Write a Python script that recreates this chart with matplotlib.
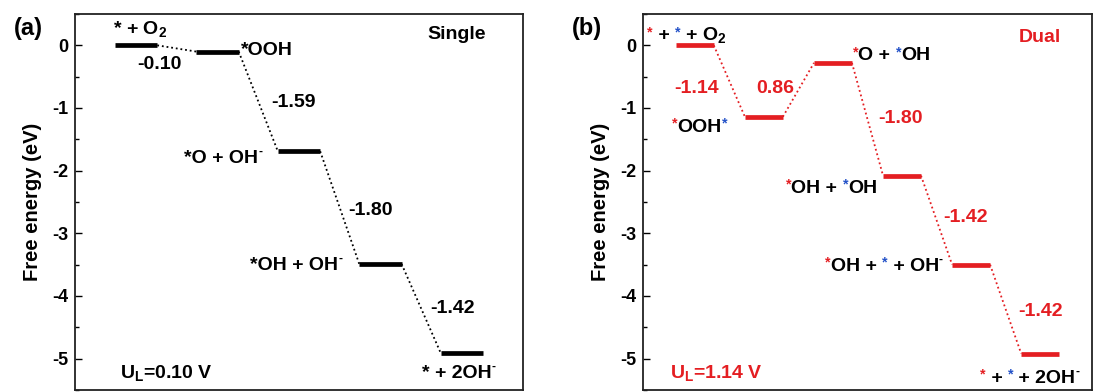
import numpy as np
import matplotlib
matplotlib.use('Agg')
import matplotlib.pyplot as plt
from matplotlib.ticker import MultipleLocator
from matplotlib.font_manager import FontProperties

plt.rcParams['font.family'] = ['Liberation Sans', 'DejaVu Sans']
plt.rcParams['font.weight'] = 'bold'
plt.rcParams['mathtext.fontset'] = 'custom'
plt.rcParams['mathtext.bf'] = 'Liberation Sans:bold'
plt.rcParams['mathtext.rm'] = 'Liberation Sans:bold'
plt.rcParams['mathtext.default'] = 'bf'

RED = '#e41e22'
BLUE = '#2452c8'
K = 'black'

# free energy levels (eV) and step energies
single_levels = [0.0, -0.10, -1.69, -3.49, -4.91]
single_steps = ['-0.10', '-1.59', '-1.80', '-1.42']
dual_levels = [0.0, -1.14, -0.28, -2.08, -3.50, -4.92]
dual_steps = ['-1.14', '0.86', '-1.80', '-1.42', '-1.42']

DPI = 100
fig = plt.figure(figsize=(10.94, 3.92), dpi=DPI)
ax1 = fig.add_axes([75 / 1094, 2.0 / 392, 448 / 1094, 376 / 392])
ax2 = fig.add_axes([643 / 1094, 2.0 / 392, 449 / 1094, 376 / 392])
renderer = fig.canvas.get_renderer()


def text_width(s, size):
    prop = FontProperties(family=['Liberation Sans', 'DejaVu Sans'], weight='bold', size=size)
    ism = '$' in s
    w1, _, _ = renderer.get_text_width_height_descent(s + 'H', prop, ismath=ism)
    w2, _, _ = renderer.get_text_width_height_descent('H', prop, ismath=False)
    return (w1 - w2) * 72.0 / DPI


def rich(ax, x, y, segs, ha='left', size=14):
    # segs: (text, color, kind) with kind None, 'star' (small raised asterisk) or 'sup'
    items = []
    base = -0.36 * size
    for s, c, kind in segs:
        if kind == 'star':
            fs, dy = size * 0.72, base + size * 0.28 * 0.75
        elif kind == 'sup':
            fs, dy = size * 0.6, base + size * 0.42
        else:
            fs, dy = size, base
        items.append((s, c, fs, dy, text_width(s, fs)))
    total = sum(it[4] for it in items)
    dx = {'left': 0.0, 'center': -total / 2, 'right': -total}[ha]
    for s, c, fs, dy, w in items:
        ax.annotate(s, xy=(x, y), xytext=(dx, dy), textcoords='offset points',
                    ha='left', va='baseline', color=c, fontsize=fs, fontweight='bold',
                    annotation_clip=False)
        dx += w


def profile(ax, levels, color, hw):
    x = np.arange(1, len(levels) + 1)
    for xi, e in zip(x, levels):
        ax.plot([xi - hw, xi + hw], [e, e], color=color, lw=3.4, solid_capstyle='butt')
    for i in range(len(levels) - 1):
        ax.plot([x[i] + hw, x[i + 1] - hw], [levels[i], levels[i + 1]],
                color=color, lw=1.3, ls=(0, (1, 1.6)))


def style(ax, xmax):
    ax.set_xlim(0.25, xmax)
    ax.set_ylim(-5.5, 0.5)
    ax.set_xticks([])
    ax.yaxis.set_minor_locator(MultipleLocator(0.5))
    ax.tick_params(axis='y', which='major', direction='in', length=5, width=1, labelsize=13, pad=5)
    ax.tick_params(axis='y', which='minor', direction='in', length=3, width=1)
    for sp in ax.spines.values():
        sp.set_linewidth(1.3)
        sp.set_color('#222222')
        sp.set_zorder(5)
    ax.set_yticks(range(-5, 1))
    ax.set_yticklabels([str(v) for v in range(-5, 1)], fontweight='bold')
    ax.set_ylabel('Free energy (eV)', fontsize=14.5, fontweight='bold', labelpad=7)


SUP = ('-', K, 'sup')

# ---- (a) single site
profile(ax1, single_levels, K, 0.26)
style(ax1, 5.75)
rich(ax1, 0.72, 0.29, [('* + O$_2$', K, None)])
rich(ax1, 1.29, -0.27, [(single_steps[0], K, None)], ha='center')
rich(ax1, 2.29, -0.05, [('*OOH', K, None)])
rich(ax1, 2.93, -0.87, [(single_steps[1], K, None)], ha='center')
rich(ax1, 2.55, -1.76, [('*O + OH', K, None), SUP], ha='right')
rich(ax1, 3.88, -2.59, [(single_steps[2], K, None)], ha='center')
rich(ax1, 3.53, -3.48, [('*OH + OH', K, None), SUP], ha='right')
rich(ax1, 4.89, -4.16, [(single_steps[3], K, None)], ha='center')
rich(ax1, 4.96, -5.19, [('* + 2OH', K, None), SUP], ha='center')
rich(ax1, 4.94, 0.21, [('Single', K, None)], ha='center')
rich(ax1, 0.80, -5.19, [('U$_L$=0.10 V', K, None)])

# ---- (b) dual site
profile(ax2, dual_levels, RED, 0.275)
style(ax2, 6.75)
rich(ax2, 0.31, 0.19, [('*', RED, 'star'), (' + ', K, None), ('*', BLUE, 'star'), (' + O$_2$', K, None)])
rich(ax2, 1.03, -0.65, [(dual_steps[0], RED, None)], ha='center')
rich(ax2, 2.16, -0.65, [(dual_steps[1], RED, None)], ha='center')
rich(ax2, 0.67, -1.27, [('*', RED, 'star'), ('OOH', K, None), ('*', BLUE, 'star')])
rich(ax2, 3.29, -0.13, [('*', RED, 'star'), ('O + ', K, None), ('*', BLUE, 'star'), ('OH', K, None)])
rich(ax2, 3.98, -1.13, [(dual_steps[2], RED, None)], ha='center')
rich(ax2, 3.64, -2.24, [('*', RED, 'star'), ('OH + ', K, None), ('*', BLUE, 'star'), ('OH', K, None)],
     ha='right')
rich(ax2, 4.92, -2.71, [(dual_steps[3], RED, None)], ha='center')
rich(ax2, 4.59, -3.49, [('*', RED, 'star'), ('OH + ', K, None), ('*', BLUE, 'star'),
                        (' + OH', K, None), SUP], ha='right')
rich(ax2, 6.00, -4.21, [(dual_steps[4], RED, None)], ha='center')
rich(ax2, 5.13, -5.27, [('*', RED, 'star'), (' + ', K, None), ('*', BLUE, 'star'),
                        (' + 2OH', K, None), SUP])
rich(ax2, 6.00, 0.16, [('Dual', RED, None)], ha='center')
rich(ax2, 0.64, -5.19, [('U$_L$=1.14 V', RED, None)])

fig.text(28 / 1094, 1 - 28 / 392, '(a)', fontsize=17, fontweight='bold', ha='center', va='center')
fig.text(587 / 1094, 1 - 28 / 392, '(b)', fontsize=17, fontweight='bold', ha='center', va='center')

fig.savefig('out.png', dpi=DPI)
